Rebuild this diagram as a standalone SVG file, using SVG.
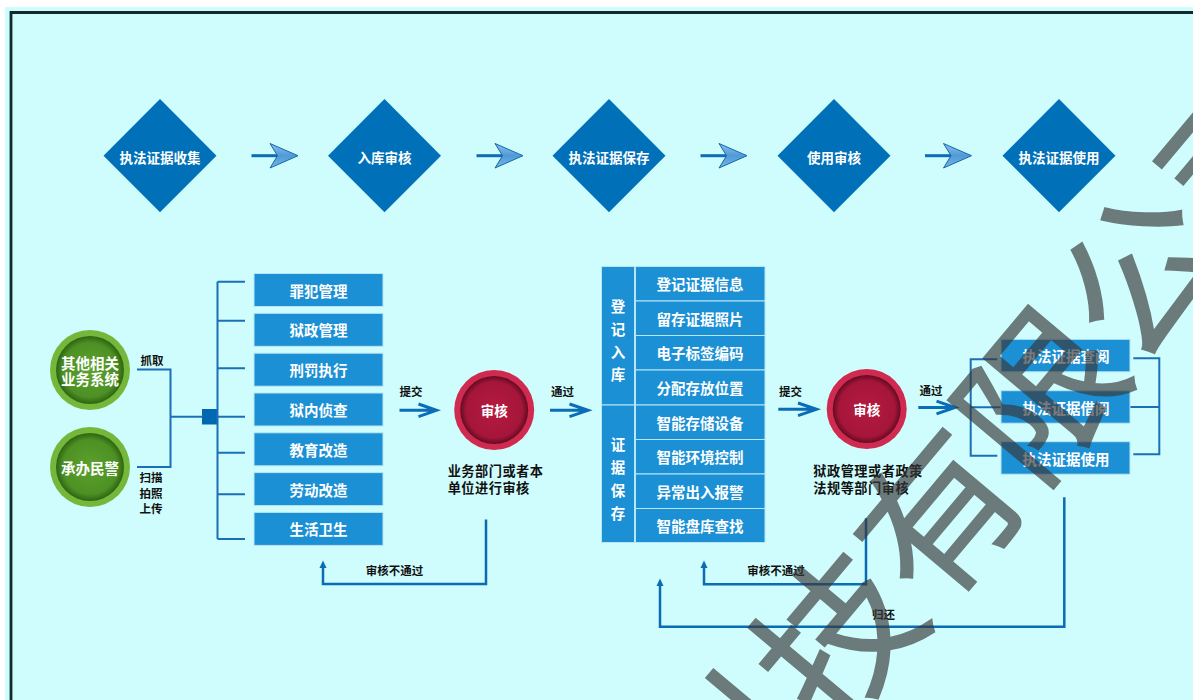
<svg xmlns="http://www.w3.org/2000/svg" width="1193" height="700" viewBox="0 0 1193 700">
<defs>
<style>
text{font-family:"Noto Sans CJK SC","Noto Sans CJK JP",sans-serif;font-weight:700}
.dia{fill:#0071b8}
.box{fill:#1c90d5;stroke:#b8e6f6;stroke-width:1}
.wt{fill:#fff;font-size:14.5px;text-anchor:middle;dominant-baseline:central}
.dt{fill:#fff;font-size:13.5px;text-anchor:middle;dominant-baseline:central}
.lb{fill:#111;font-size:11.5px;text-anchor:middle;dominant-baseline:central}
.cap{fill:#111;font-size:13.2px;letter-spacing:0.5px;dominant-baseline:central}
.thin{stroke:#1b6fb6;stroke-width:2;fill:none}
.fb{stroke:#0b6bb3;stroke-width:2.5;fill:none}
.arr{stroke:#0b6db5;stroke-width:3;fill:none}
.head{fill:url(#ag);stroke:#1668ac;stroke-width:1}
.tip{fill:#0b6bb3}
</style>
<linearGradient id="ag" x1="0" y1="0" x2="0" y2="1">
<stop offset="0" stop-color="#8cc2ea"/><stop offset="0.5" stop-color="#4f9ad6"/><stop offset="1" stop-color="#7bb6e4"/>
</linearGradient>
<radialGradient id="rg" cx="0.5" cy="0.5" r="0.5">
<stop offset="0" stop-color="#b61a40"/><stop offset="0.82" stop-color="#a5163a"/><stop offset="1" stop-color="#650b22"/>
</radialGradient>
<radialGradient id="gg" cx="0.5" cy="0.5" r="0.5">
<stop offset="0" stop-color="#5ca22d"/><stop offset="0.8" stop-color="#4d9024"/><stop offset="1" stop-color="#2e6412"/>
</radialGradient>
</defs>
<rect x="0" y="0" width="1193" height="700" fill="#fff"/>
<rect x="5" y="7" width="1188" height="693" fill="#cffdfd"/>
<path d="M11,700 V12.5 H1193" fill="none" stroke="#132a2a" stroke-width="2.8"/>

<g id="top-row">
<g id="d1"><polygon class="dia" points="160,99 216.5,155.7 160,212.3 103.5,155.7"/><text class="dt" x="160" y="156.5">执法证据收集</text></g>
<g id="d2"><polygon class="dia" points="384.5,99 441,155.7 384.5,212.3 328,155.7"/><text class="dt" x="384.5" y="156.5">入库审核</text></g>
<g id="d3"><polygon class="dia" points="609,99 665.5,155.7 609,212.3 552.5,155.7"/><text class="dt" x="609" y="156.5">执法证据保存</text></g>
<g id="d4"><polygon class="dia" points="834,99 890.5,155.7 834,212.3 777.5,155.7"/><text class="dt" x="834" y="156.5">使用审核</text></g>
<g id="d5"><polygon class="dia" points="1059,99 1115.5,155.7 1059,212.3 1002.5,155.7"/><text class="dt" x="1059" y="156.5">执法证据使用</text></g>
</g>

<g id="c1"><circle cx="90" cy="370" r="40" fill="#74b73a"/><circle cx="90" cy="370" r="34" fill="url(#gg)"/><text class="wt" x="90" y="362.5" font-size="14">其他相关</text><text class="wt" x="90" y="378.5" font-size="14">业务系统</text></g>
<g id="c2"><circle cx="90" cy="467" r="40" fill="#74b73a"/><circle cx="90" cy="467" r="34" fill="url(#gg)"/><text class="wt" x="90" y="467">承办民警</text></g>

<g id="list">
<g id="b1"><rect class="box" x="254" y="273.5" width="129" height="33"/><text class="wt" x="318.5" y="290">罪犯管理</text></g>
<g id="b2"><rect class="box" x="254" y="313.3" width="129" height="33"/><text class="wt" x="318.5" y="329.8">狱政管理</text></g>
<g id="b3"><rect class="box" x="254" y="353.2" width="129" height="33"/><text class="wt" x="318.5" y="369.7">刑罚执行</text></g>
<g id="b4"><rect class="box" x="254" y="393" width="129" height="33"/><text class="wt" x="318.5" y="409.5">狱内侦查</text></g>
<g id="b5"><rect class="box" x="254" y="432.8" width="129" height="33"/><text class="wt" x="318.5" y="449.3">教育改造</text></g>
<g id="b6"><rect class="box" x="254" y="472.6" width="129" height="33"/><text class="wt" x="318.5" y="489.1">劳动改造</text></g>
<g id="b7"><rect class="box" x="254" y="512.4" width="129" height="33"/><text class="wt" x="318.5" y="528.9">生活卫生</text></g>
</g>

<g id="r1"><circle cx="494.2" cy="410" r="40" fill="#d02a50"/><circle cx="494.2" cy="410" r="34" fill="url(#rg)"/><text class="dt" x="494.2" y="410">审核</text></g>
<g id="r2"><circle cx="866.7" cy="409" r="40" fill="#d02a50"/><circle cx="866.7" cy="409" r="34" fill="url(#rg)"/><text class="dt" x="866.7" y="409">审核</text></g>

<g id="table">
<rect class="box" x="601.5" y="266.5" width="33" height="138.5"/>
<rect class="box" x="601.5" y="405" width="33" height="137.5"/>
<g><text class="wt" x="618" y="305">登</text><text class="wt" x="618" y="328">记</text><text class="wt" x="618" y="351">入</text><text class="wt" x="618" y="373.5">库</text>
<text class="wt" x="618" y="443.5">证</text><text class="wt" x="618" y="466">据</text><text class="wt" x="618" y="489">保</text><text class="wt" x="618" y="512">存</text></g>
<g id="t1"><rect class="box" x="635.5" y="266.5" width="129.5" height="34.5"/><text class="wt" x="700" y="283.5">登记证据信息</text></g>
<g id="t2"><rect class="box" x="635.5" y="301" width="129.5" height="34.5"/><text class="wt" x="700" y="318">留存证据照片</text></g>
<g id="t3"><rect class="box" x="635.5" y="335.5" width="129.5" height="34.5"/><text class="wt" x="700" y="352.5">电子标签编码</text></g>
<g id="t4"><rect class="box" x="635.5" y="370" width="129.5" height="35"/><text class="wt" x="700" y="387">分配存放位置</text></g>
<g id="t5"><rect class="box" x="635.5" y="405" width="129.5" height="34.5"/><text class="wt" x="700" y="422">智能存储设备</text></g>
<g id="t6"><rect class="box" x="635.5" y="439.5" width="129.5" height="34.5"/><text class="wt" x="700" y="456.5">智能环境控制</text></g>
<g id="t7"><rect class="box" x="635.5" y="474" width="129.5" height="34.5"/><text class="wt" x="700" y="491">异常出入报警</text></g>
<g id="t8"><rect class="box" x="635.5" y="508.5" width="129.5" height="34"/><text class="wt" x="700" y="525.5">智能盘库查找</text></g>
</g>

<g id="connectors">
<g>
<path class="arr" d="M251.5,155.7 H278"/><polygon class="head" points="270,143.5 298,155.7 270,168 277.5,155.7"/>
<path class="arr" d="M476.5,155.7 H503"/><polygon class="head" points="495,143.5 523,155.7 495,168 502.5,155.7"/>
<path class="arr" d="M700.5,155.7 H727"/><polygon class="head" points="719,143.5 747,155.7 719,168 726.5,155.7"/>
<path class="arr" d="M925,155.7 H951.5"/><polygon class="head" points="943.5,143.5 971.5,155.7 943.5,168 951,155.7"/>
</g>
<path class="thin" d="M137,369.5 H170.5 V467 H137 M170.5,416.7 H203"/>
<rect x="202" y="409" width="16" height="15.5" fill="#0068b0"/>
<path class="thin" d="M217.5,281.7 V539 M217.5,281.7 H245 M217.5,320.7 H245 M217.5,368.3 H245 M217.5,416.7 H245 M217.5,452.7 H245 M217.5,494.3 H245 M217.5,539 H245"/>
<path class="arr" d="M399.5,410.3 H435.5 M418.5,404 L436.5,410.3 L418.5,416.6"/>
<path class="arr" d="M550,410.3 H587 M569.5,404 L588,410.3 L569.5,416.6"/>
<path class="arr" d="M778.3,409.3 H815.5 M798,403 L816.5,409.3 L798,415.6"/>
<path class="arr" d="M918.3,407.5 H954 M936.5,401.2 L955,407.5 L936.5,413.8"/>
<path class="fb" d="M486,519.5 V584 H323 V566"/><polygon class="tip" points="323,560.5 319.5,568 326.5,568"/>
<path class="fb" d="M866,518.3 V584.3 H704 V566"/><polygon class="tip" points="704,560.5 700.5,568 707.5,568"/>
<path class="fb" d="M1064.3,497.3 V626.7 H660 V584"/><polygon class="tip" points="660,578.5 656.5,586 663.5,586"/>
<path class="thin" d="M997.3,359.3 H970.7 V455.7 H997.3 M970.7,407.3 H1001"/>
<path class="thin" d="M1133.3,358.3 H1159.3 V454.3 H1133.3 M1130,407 H1159.3"/>
</g>

<g id="use">
<g id="u1"><rect class="box" x="1001" y="339.3" width="129" height="32.5"/><text class="wt" x="1066" y="355.5">执法证据查阅</text></g>
<g id="u2"><rect class="box" x="1001" y="390.7" width="129" height="32.5"/><text class="wt" x="1066" y="407">执法证据借阅</text></g>
<g id="u3"><rect class="box" x="1001" y="441.7" width="129" height="32.5"/><text class="wt" x="1066" y="458">执法证据使用</text></g>
</g>

<g id="labels">
<text class="lb" x="152" y="360">抓取</text>
<text class="lb" x="151" y="477.3">扫描</text>
<text class="lb" x="151" y="493.3">拍照</text>
<text class="lb" x="151" y="508.3">上传</text>
<text class="lb" x="411" y="390.7">提交</text>
<text class="lb" x="562.5" y="390.7">通过</text>
<text class="lb" x="790.5" y="390.5">提交</text>
<text class="lb" x="931" y="390">通过</text>
<text class="lb" x="394.5" y="570" font-size="12">审核不通过</text>
<text class="lb" x="776" y="569.5" font-size="12">审核不通过</text>
<text class="lb" x="883.5" y="614">归还</text>
<text class="cap" x="447.7" y="470.5">业务部门或者本</text>
<text class="cap" x="447.7" y="487">单位进行审核</text>
<text class="cap" x="813.3" y="470.5">狱政管理或者政策</text>
<text class="cap" x="813.3" y="487">法规等部门审核</text>
</g>

<g id="watermark" opacity="0.66">
<text transform="translate(830,630) rotate(-50)" x="-237" y="0" font-size="158" dominant-baseline="central" fill="#383838" stroke="#383838" stroke-width="1.5" style="font-weight:400">科技有限公司</text>
</g>
</svg>
